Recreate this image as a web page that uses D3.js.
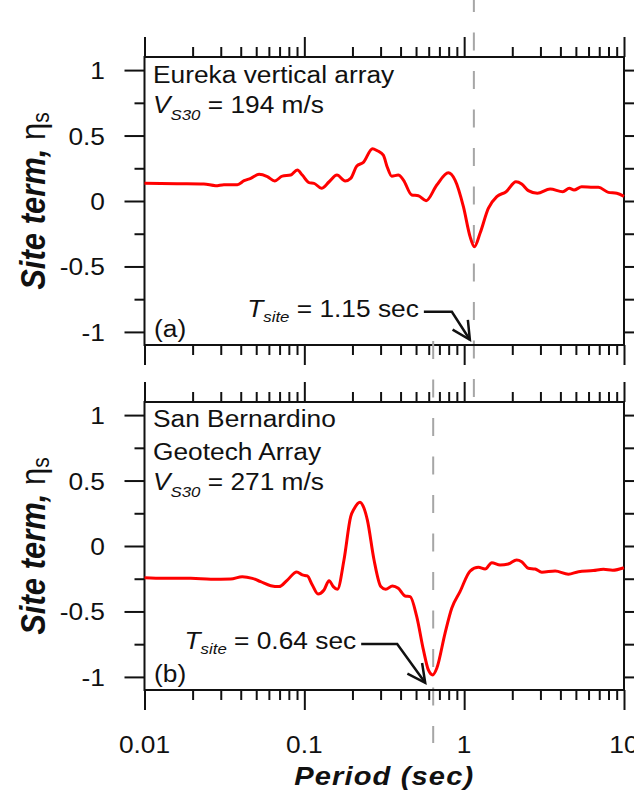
<!DOCTYPE html>
<html>
<head>
<meta charset="utf-8">
<script src="https://cdn.jsdelivr.net/npm/d3@7"></script>
<style>
  body { margin: 0; background: #fff; }
  svg { display: block; }
  text { font-family: "Liberation Sans", Arial, Helvetica, sans-serif; fill: #111; }
</style>
</head>
<body>
<div id="chart"></div>
<script>
// Eureka vertical array (a)
const periodA = [0.01, 0.016, 0.0235, 0.0279, 0.0314, 0.0381, 0.042, 0.0462, 0.0521, 0.0587,
  0.0653, 0.0728, 0.0822, 0.0904, 0.0971, 0.107, 0.115, 0.128, 0.143, 0.160,
  0.180, 0.195, 0.213, 0.234, 0.267, 0.286, 0.312, 0.330, 0.352, 0.387,
  0.417, 0.47, 0.517, 0.578, 0.674, 0.796, 0.877, 0.989, 1.089, 1.158,
  1.257, 1.416, 1.60, 1.83, 2.11, 2.29, 2.52, 2.87, 3.45, 4.14,
  4.55, 4.87, 5.44, 6.43, 6.92, 7.98, 9.01, 10];
const siteA = [0.135, 0.132, 0.13, 0.117, 0.125, 0.125, 0.155, 0.173, 0.204, 0.186,
  0.153, 0.19, 0.198, 0.237, 0.198, 0.14, 0.135, 0.097, 0.147, 0.198,
  0.153, 0.173, 0.267, 0.295, 0.40, 0.384, 0.35, 0.26, 0.19, 0.198,
  0.16, 0.046, 0.04, 0.002, 0.122, 0.216, 0.16, -0.043, -0.272, -0.349,
  -0.247, -0.056, 0.033, 0.071, 0.147, 0.13, 0.079, 0.059, 0.092, 0.071,
  0.097, 0.084, 0.109, 0.105, 0.105, 0.066, 0.059, 0.035];

// San Bernardino Geotech Array (b)
const periodB = [0.01, 0.01325, 0.01946, 0.026, 0.0346, 0.0409, 0.0473, 0.0533, 0.0616, 0.0695,
  0.0783, 0.0896, 0.0971, 0.1044, 0.1122, 0.1218, 0.1328, 0.1428, 0.1518, 0.161,
  0.177, 0.195, 0.205, 0.223, 0.236, 0.248, 0.273, 0.301, 0.323, 0.356,
  0.387, 0.427, 0.459, 0.505, 0.556, 0.597, 0.636, 0.674, 0.759, 0.836,
  0.942, 1.089, 1.228, 1.352, 1.489, 1.678, 1.891, 2.13, 2.29, 2.52,
  2.78, 3.06, 3.71, 4.49, 5.19, 6.43, 7.43, 8.49, 10];
const siteB = [-0.242, -0.247, -0.247, -0.254, -0.252, -0.234, -0.247, -0.272, -0.303, -0.31,
  -0.26, -0.198, -0.221, -0.229, -0.298, -0.366, -0.336, -0.265, -0.31, -0.331,
  -0.107, 0.224, 0.285, 0.335, 0.29, 0.198, -0.107, -0.31, -0.331, -0.305,
  -0.323, -0.382, -0.387, -0.54, -0.794, -0.947, -0.985, -0.934, -0.667, -0.476,
  -0.349, -0.191, -0.163, -0.176, -0.127, -0.145, -0.137, -0.107, -0.12, -0.170,
  -0.176, -0.2, -0.191, -0.215, -0.196, -0.188, -0.178, -0.185, -0.166];

const tSite = [1.15, 0.64];
const panelTags = ["(a)", "(b)"];
const siteNames = [["Eureka vertical array"], ["San Bernardino", "Geotech Array"]];
const vs30 = [194, 271];

const xMajor = [0.01, 0.1, 1, 10];
const xMinor = [];
[0.01, 0.1, 1].forEach(d => { for (let k = 2; k <= 9; k++) xMinor.push(d * k); });
const yMajor = [-1, -0.5, 0, 0.5, 1];
const yMinor = [-0.75, -0.25, 0.25, 0.75];

const width = 634, height = 799;
const left = 144.5, right = 624;
const panels = [
  { top: 57, bottom: 345, textLines: [83, 113] },
  { top: 402, bottom: 690, textLines: [427, 460, 490] }
];
const SX = 1.12; // glyphs in the figure are a bit wide

const svg = d3.select("#chart").append("svg")
  .attr("width", width)
  .attr("height", height);

const x = d3.scaleLog().domain([0.01, 10]).range([left, right]);

function addText(parent, px, py, anchor, size) {
  return parent.append("text")
    .attr("transform", `translate(${px},${py}) scale(${SX},1)`)
    .attr("text-anchor", anchor)
    .style("font-size", size + "px");
}

function styleAxis(g) {
  g.select(".domain").remove();
  g.selectAll(".tick line").attr("stroke", "#111").attr("stroke-width", 2);
}

const series = [
  periodA.map((p, i) => [p, siteA[i]]),
  periodB.map((p, i) => [p, siteB[i]])
];

panels.forEach((pn, i) => {
  const y = d3.scaleLinear().domain([-1.1, 1.1]).range([pn.bottom, pn.top]);
  const g = svg.append("g");

  // dashed T_site marker
  g.append("line")
    .attr("x1", x(tSite[i])).attr("x2", x(tSite[i]))
    .attr("y1", pn.top - (i === 0 ? 63 : 61)).attr("y2", pn.bottom + 53)
    .attr("stroke", "#a6a6a6")
    .attr("stroke-width", 2)
    .attr("stroke-dasharray", "18,20.5");

  // ticks
  g.append("g").attr("transform", `translate(${left},0)`)
    .call(d3.axisLeft(y).tickValues(yMajor).tickSize(20).tickFormat("")).call(styleAxis);
  g.append("g").attr("transform", `translate(${left},0)`)
    .call(d3.axisLeft(y).tickValues(yMinor).tickSize(10).tickFormat("")).call(styleAxis);
  g.append("g").attr("transform", `translate(${right},0)`)
    .call(d3.axisRight(y).tickValues(yMajor).tickSize(20).tickFormat("")).call(styleAxis);
  g.append("g").attr("transform", `translate(${right},0)`)
    .call(d3.axisRight(y).tickValues(yMinor).tickSize(10).tickFormat("")).call(styleAxis);
  g.append("g").attr("transform", `translate(0,${pn.top})`)
    .call(d3.axisTop(x).tickValues(xMajor).tickSize(20).tickFormat("")).call(styleAxis);
  g.append("g").attr("transform", `translate(0,${pn.top})`)
    .call(d3.axisTop(x).tickValues(xMinor).tickSize(10).tickFormat("")).call(styleAxis);
  g.append("g").attr("transform", `translate(0,${pn.bottom})`)
    .call(d3.axisBottom(x).tickValues(xMajor).tickSize(20).tickFormat("")).call(styleAxis);
  g.append("g").attr("transform", `translate(0,${pn.bottom})`)
    .call(d3.axisBottom(x).tickValues(xMinor).tickSize(10).tickFormat("")).call(styleAxis);

  // frame
  g.append("rect")
    .attr("x", left).attr("y", pn.top)
    .attr("width", right - left).attr("height", pn.bottom - pn.top)
    .attr("fill", "none").attr("stroke", "#111").attr("stroke-width", 2);

  // y tick labels (plain hyphen minus like the original)
  yMajor.forEach(v => {
    addText(g, 105, y(v) + 9, "end", 23.5).text(String(v));
  });

  // site term curve
  const line = d3.line()
    .x(d => x(d[0]))
    .y(d => y(d[1]))
    .curve(d3.curveMonotoneX);
  g.append("path")
    .datum(series[i])
    .attr("d", line)
    .attr("fill", "none")
    .attr("stroke", "#ff0000")
    .attr("stroke-width", 3)
    .attr("stroke-linejoin", "round");

  // site description
  siteNames[i].forEach((s, k) => {
    addText(g, 153, pn.textLines[k], "start", 23.5).text(s);
  });
  const vt = addText(g, 153, pn.textLines[pn.textLines.length - 1], "start", 23.5);
  vt.append("tspan").style("font-style", "italic").text("V");
  vt.append("tspan").style("font-style", "italic").style("font-size", "15px").attr("dy", 7).text("S30");
  vt.append("tspan").attr("dy", -7).text(` = ${vs30[i]} m/s`);

  addText(g, 154, y(-1) + 5, "start", 23.5).text(panelTags[i]);

  // T_site annotation with arrow
  const tipX = x(tSite[i]) - (i === 0 ? 4 : 8);
  const tipY = y(i === 0 ? -1.06 : -1.045);
  const elbowX = tipX - (i === 0 ? 18 : 28);
  const elbowY = tipY - (i === 0 ? 28 : 38.7);
  const startX = elbowX - (i === 0 ? 28 : 36);
  const tt = addText(g, startX - 5, elbowY + 5, "end", 23.5);
  tt.append("tspan").style("font-style", "italic").text("T");
  tt.append("tspan").style("font-style", "italic").style("font-size", "15px").attr("dy", 5).text("site");
  tt.append("tspan").attr("dy", -5).text(` = ${tSite[i].toFixed(2)} sec`);

  g.append("path")
    .attr("d", `M${startX},${elbowY}L${elbowX},${elbowY}L${tipX},${tipY}`)
    .attr("fill", "none").attr("stroke", "#111").attr("stroke-width", 2.5);
  const ang = Math.atan2(elbowY - tipY, elbowX - tipX);
  const wing = 20, spread = 27 * Math.PI / 180;
  g.append("path")
    .attr("d", `M${tipX + wing * Math.cos(ang - spread)},${tipY + wing * Math.sin(ang - spread)}` +
      `L${tipX},${tipY}L${tipX + wing * Math.cos(ang + spread)},${tipY + wing * Math.sin(ang + spread)}`)
    .attr("fill", "none").attr("stroke", "#111").attr("stroke-width", 2.5);

  // y axis title
  const yt = svg.append("text")
    .attr("transform", `translate(45,${(pn.top + pn.bottom) / 2}) scale(${SX},1) rotate(-90)`)
    .attr("text-anchor", "middle")
    .style("font-size", "31px");
  yt.append("tspan").style("font-weight", "bold").style("font-style", "italic").text("Site term, ");
  yt.append("tspan").text("η");
  yt.append("tspan").style("font-size", "21px").attr("dy", 4).text("s");
});

// x tick labels and title (bottom panel only)
const bottom = panels[1].bottom;
xMajor.forEach(v => {
  addText(svg, x(v), bottom + 63, "middle", 23.5).text(String(v));
});
addText(svg, (left + right) / 2, bottom + 95, "middle", 26)
  .style("font-weight", "bold").style("font-style", "italic")
  .style("letter-spacing", "1px")
  .text("Period (sec)");
</script>
</body>
</html>
